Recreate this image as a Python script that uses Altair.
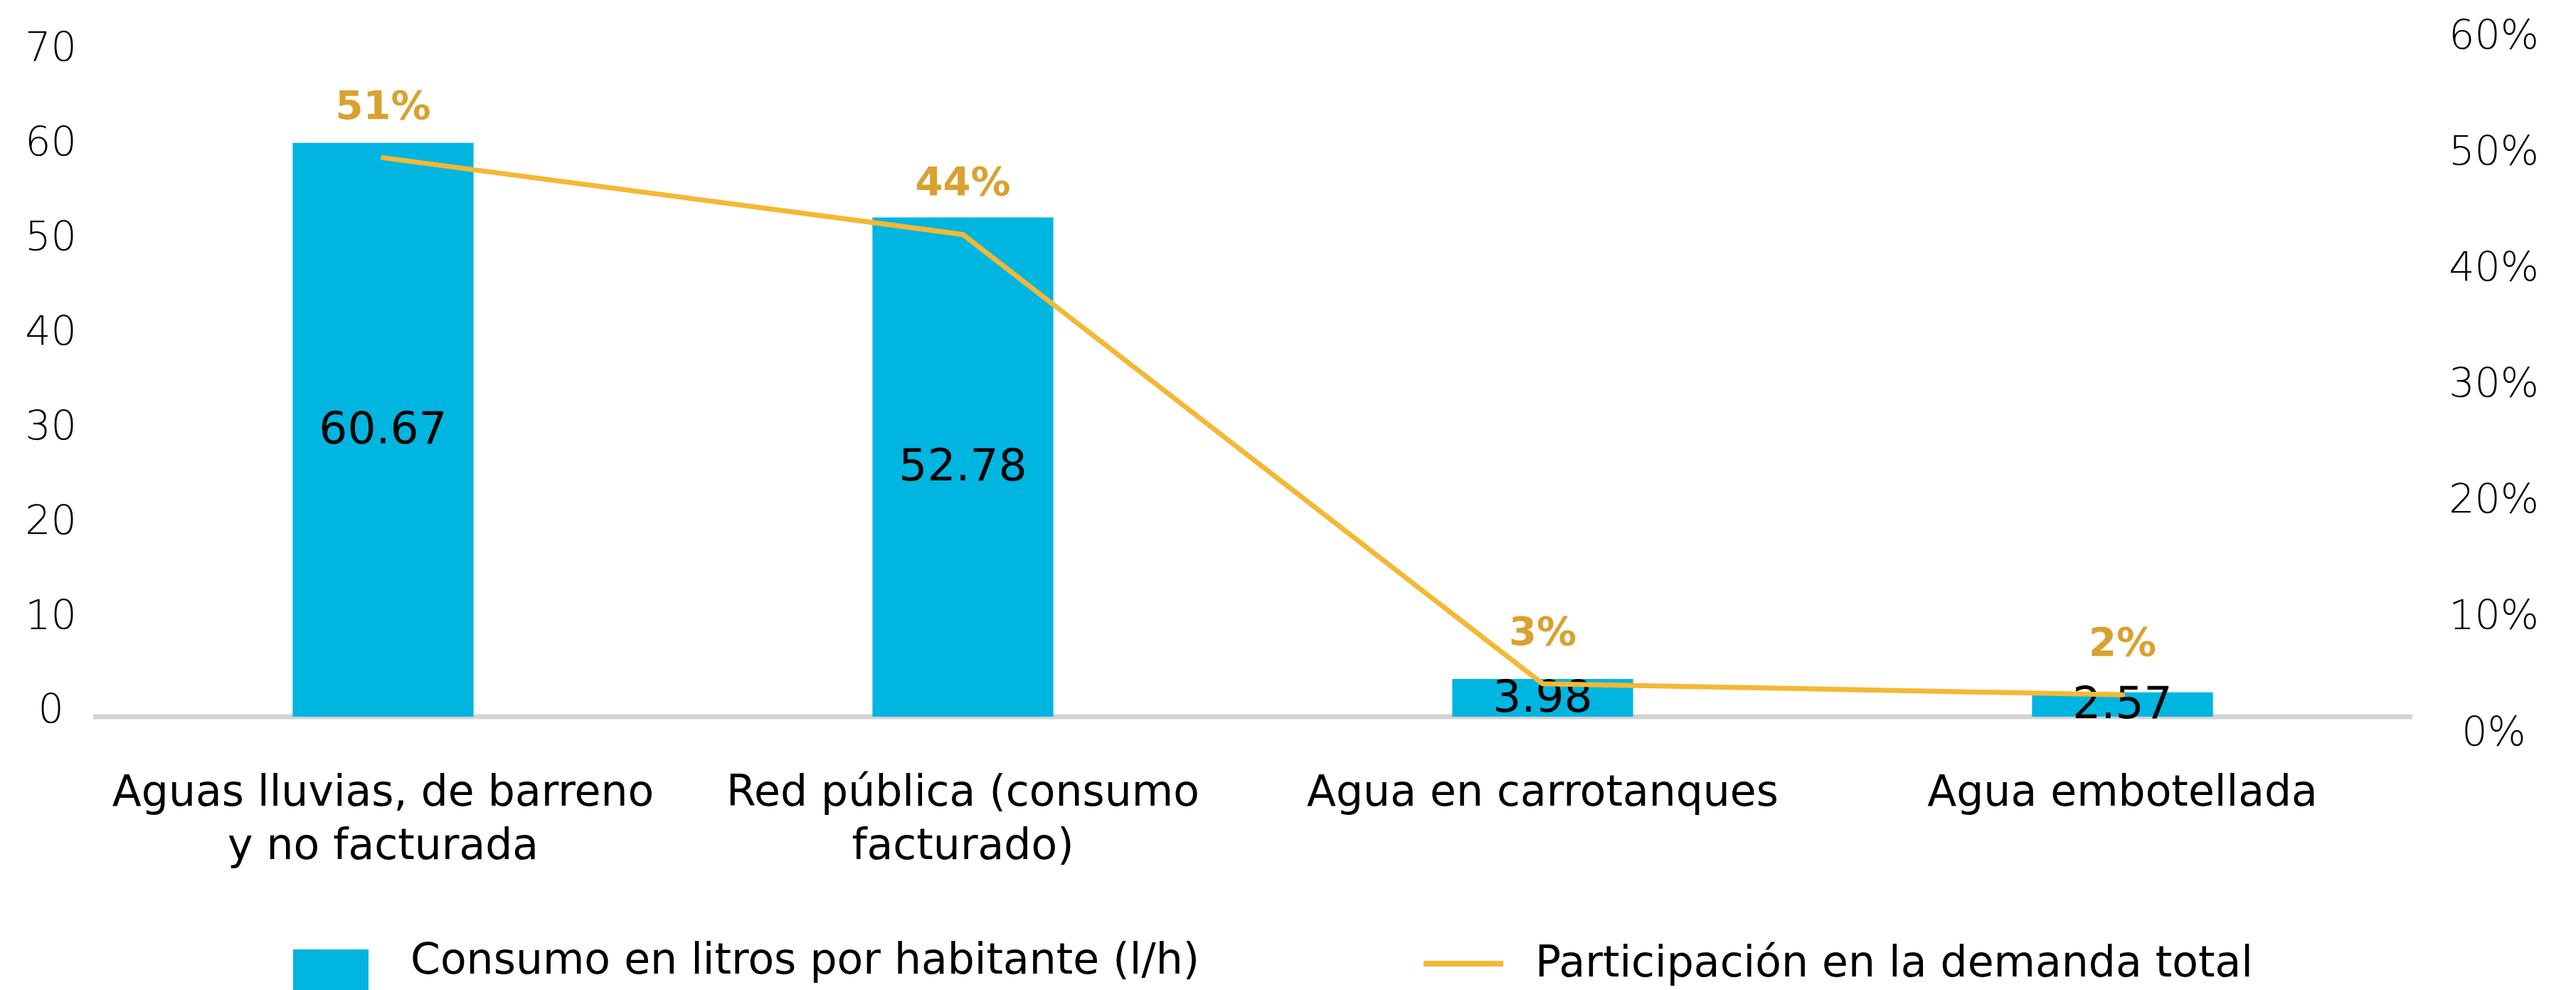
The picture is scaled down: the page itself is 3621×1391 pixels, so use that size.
import altair as alt
import pandas as pd

# ---- data ----
categories = [
    "Aguas lluvias, de barreno|y no facturada",
    "Red pública (consumo|facturado)",
    "Agua en carrotanques",
    "Agua embotellada",
]
consumo = [60.67, 52.78, 3.98, 2.57]
consumo_labels = ["60.67", "52.78", "3.98", "2.57"]
participacion = [0.51, 0.44, 0.03, 0.02]
participacion_labels = ["51%", "44%", "3%", "2%"]
left_ticks = [0, 10, 20, 30, 40, 50, 60, 70]
right_ticks = [0, 0.1, 0.2, 0.3, 0.4, 0.5, 0.6]
serie_barras = "Consumo en litros por habitante (l/h)"
serie_linea = "Participación en la demanda total"

# ---- style ----
FONT = "DejaVu Sans"
BAR_COLOR = "#00B5E0"
LINE_COLOR = "#F4B834"
PCT_COLOR = "#D9A12F"
W, H = 3260, 979
left_domain = [-1.731, 71.93]
line_domain = [-0.01494, 0.6208]

df = pd.DataFrame({
    "cat": categories,
    "consumo": consumo,
    "consumo_label": consumo_labels,
    "part": participacion,
    "part_label": participacion_labels,
    "serie_b": [serie_barras] * len(categories),
    "serie_l": [serie_linea] * len(categories),
})
df["mid"] = df["consumo"] / 2

x_enc = alt.X(
    "cat:N",
    sort=categories,
    scale=alt.Scale(paddingInner=0.688, paddingOuter=0.344),
    axis=alt.Axis(
        title=None, labelExpr="split(datum.label, '|')", labelAngle=0,
        labelFontSize=60, labelLineHeight=75, labelPadding=54,
        labelBaseline="top", ticks=False, domain=False, labelColor="black",
        labelFont=FONT, labelLimit=2000, grid=False,
    ),
)

base = alt.Chart(df)

rule = alt.Chart(pd.DataFrame({"v": [0]})).mark_rule(
    color="#D3D3D3", strokeWidth=7
).encode(
    x=alt.value(0), x2=alt.value(W),
    y=alt.Y("v:Q", scale=alt.Scale(domain=left_domain, nice=False, zero=False), axis=None),
)

bars = base.mark_bar().encode(
    x=x_enc,
    y=alt.Y(
        "consumo:Q",
        scale=alt.Scale(domain=left_domain, nice=False, zero=False),
        axis=alt.Axis(
            orient="left", values=left_ticks, title=None, grid=False, ticks=False,
            tickSize=0, domain=False, labelAlign="center", labelPadding=60,
            labelOffset=-8, labelFontSize=57, labelFont=FONT, labelFontWeight=300,
            labelColor="black",
        ),
    ),
    y2=alt.datum(0),
    color=alt.Color(
        "serie_b:N",
        scale=alt.Scale(domain=[serie_barras], range=[BAR_COLOR]),
        legend=alt.Legend(
            orient="none", legendX=281, legendY=1246, title=None,
            symbolType="M-1,-0.3H1V1.7H-1Z", symbolSize=11236,
            symbolStrokeWidth=0, symbolOpacity=1, labelFontSize=60,
            labelFont=FONT, labelColor="black", labelOffset=59, padding=0,
            labelLimit=3000,
        ),
    ),
)

bar_text = base.mark_text(fontSize=63, font=FONT, color="black").encode(
    x=x_enc,
    y=alt.Y("mid:Q", scale=alt.Scale(domain=left_domain, nice=False, zero=False), axis=None),
    text="consumo_label:N",
)

line = base.mark_line(strokeWidth=7, strokeCap="round", strokeJoin="round").encode(
    x=x_enc,
    y=alt.Y("part:Q", scale=alt.Scale(domain=line_domain, nice=False, zero=False), axis=None),
    stroke=alt.Stroke(
        "serie_l:N",
        scale=alt.Scale(domain=[serie_linea], range=[LINE_COLOR]),
        legend=alt.Legend(
            orient="none", legendX=1866, legendY=1243, title=None,
            symbolType="stroke", symbolSize=12544, symbolStrokeWidth=8,
            labelFontSize=60, labelFont=FONT, labelColor="black",
            labelOffset=41, padding=0, labelLimit=3000,
        ),
    ),
)

pct_text = base.mark_text(
    dy=-72, fontSize=56, font=FONT, fontWeight="bold", color=PCT_COLOR
).encode(
    x=x_enc,
    y=alt.Y("part:Q", scale=alt.Scale(domain=line_domain, nice=False, zero=False), axis=None),
    text="part_label:N",
)

axis_carrier = base.mark_point(opacity=0).encode(
    x=x_enc,
    y=alt.Y(
        "part:Q",
        scale=alt.Scale(domain=[0, 0.6], nice=False, zero=False),
        axis=alt.Axis(
            orient="right", values=right_ticks, format=".0%", title=None,
            grid=False, ticks=False, tickSize=0, domain=False,
            labelAlign="center", labelPadding=114, labelFontSize=57,
            labelFont=FONT, labelFontWeight=300, labelColor="black",
        ),
    ),
)

chart = alt.layer(rule, bars, bar_text, line, pct_text, axis_carrier).resolve_scale(
    y="independent"
).properties(
    width=W, height=H,
    padding={"left": 131, "top": 51, "right": 230, "bottom": 361},
    autosize=alt.AutoSizeParams(type="none"),
    background="white",
).configure_view(stroke=None)

chart.save("out.html", embed_options={"renderer": "svg", "actions": False})
